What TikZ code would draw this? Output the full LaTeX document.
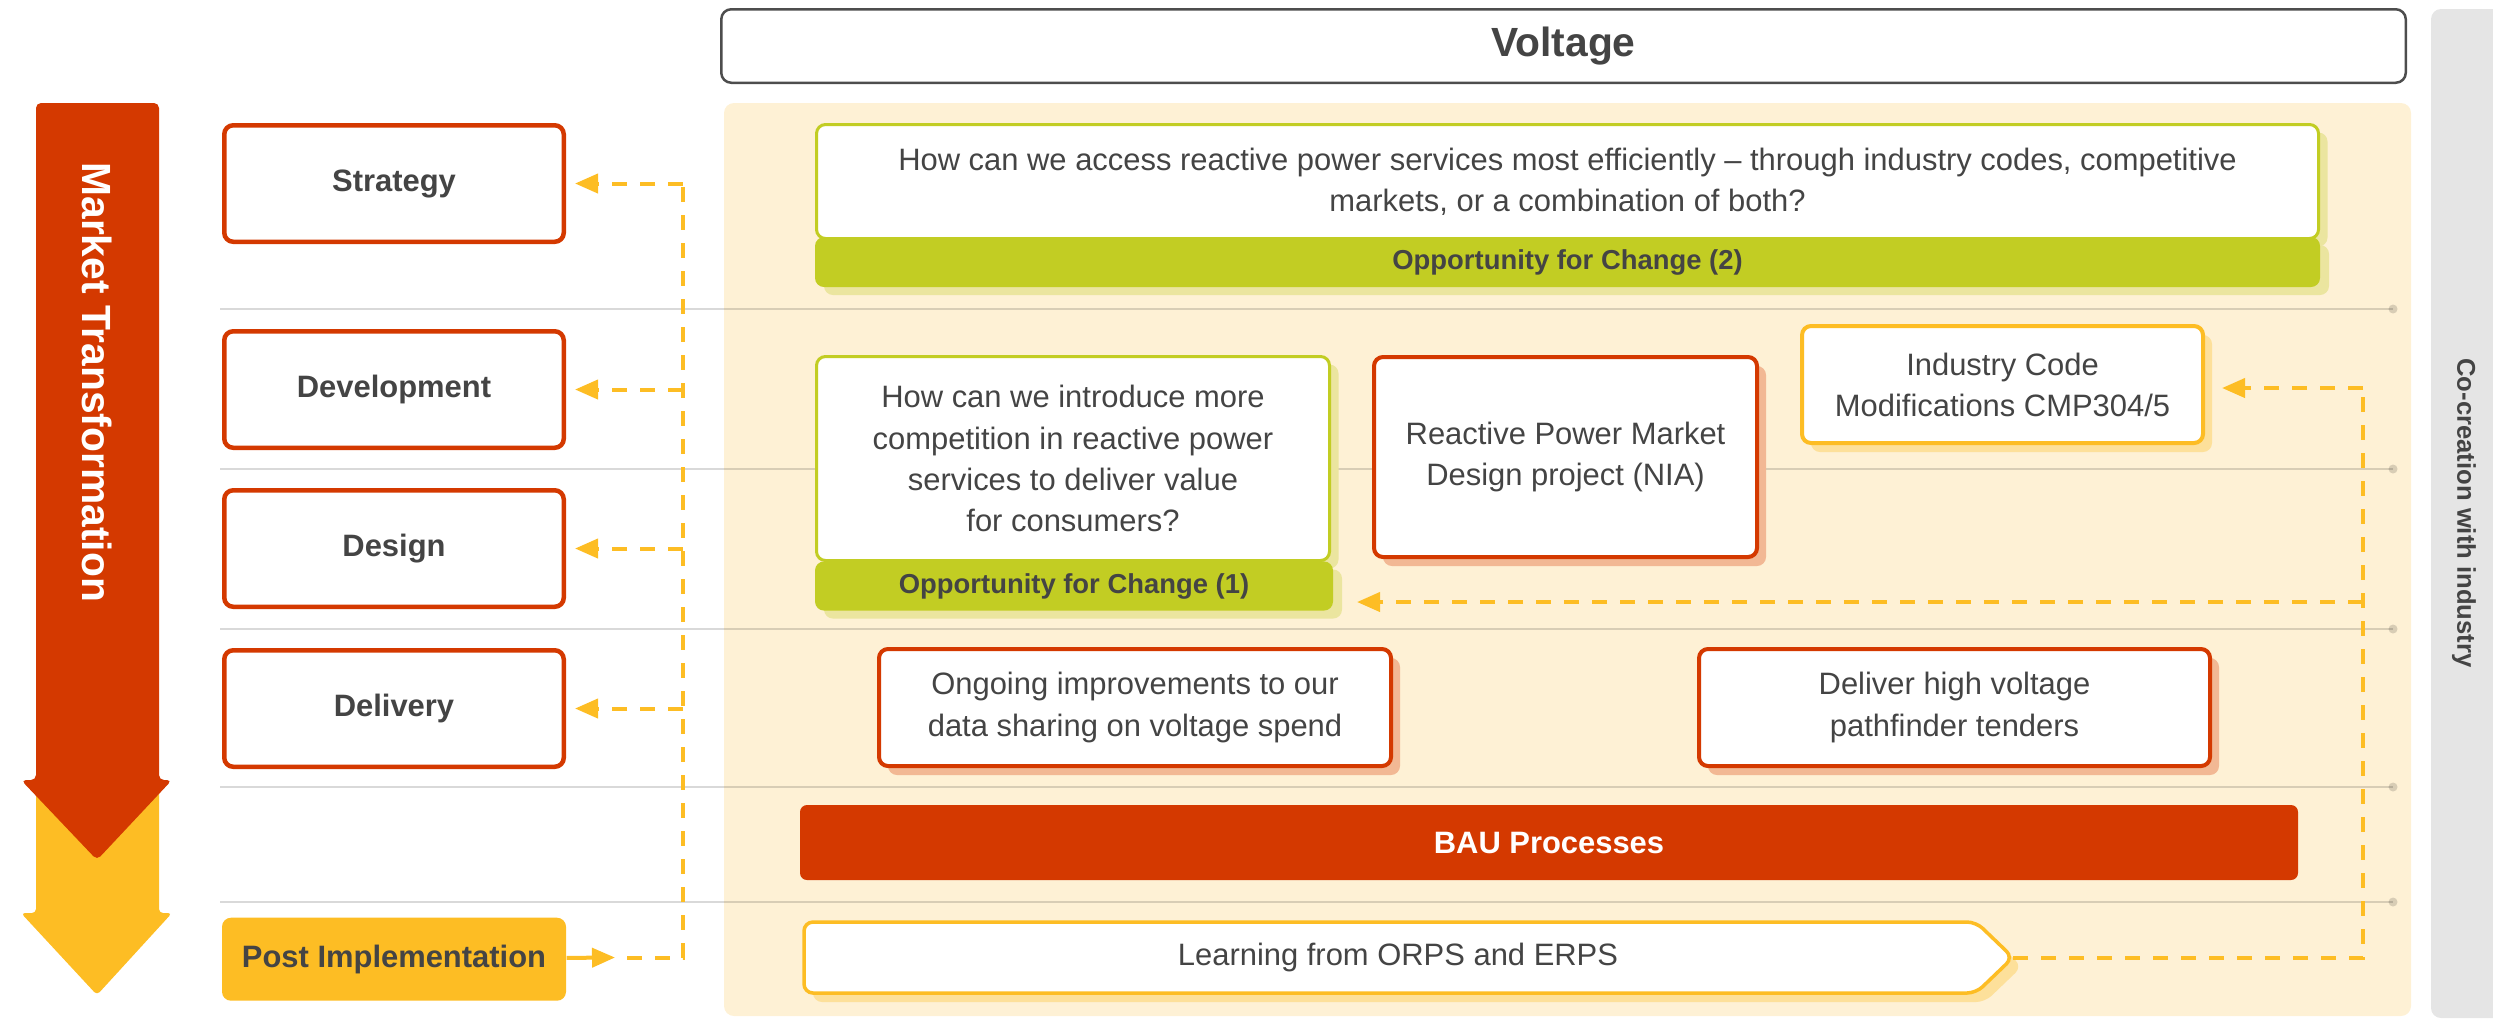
\documentclass[tikz,border=0pt]{standalone}
\usepackage{fontspec}
\setmainfont{Liberation Sans}
\usepackage{xcolor}
\usepackage{tikz}
\usetikzlibrary{arrows.meta,positioning,shadows}
\definecolor{VoltRed}{HTML}{D43900}
\definecolor{VoltAmber}{HTML}{FDBD24}
\definecolor{VoltGreen}{HTML}{C2CD23}
\definecolor{VoltCream}{HTML}{FEF1D5}
\definecolor{VoltStrip}{HTML}{E5E5E5}
\definecolor{VoltFrame}{HTML}{4D4D4D}
\definecolor{VoltInk}{HTML}{444444}
\definecolor{VoltRedShade}{HTML}{F2B894}
\definecolor{VoltGreenShade}{HTML}{EBE59F}
\definecolor{VoltAmberShade}{HTML}{FDE09A}
\newcommand{\stagefont}{\bfseries\fontsize{8.8}{11.7}\selectfont}
\newcommand{\leverfont}{\fontsize{8.8}{11.7}\selectfont}
\newcommand{\oppfont}{\bfseries\fontsize{7.8}{10}\selectfont}
\newcommand{\bannerfont}{\bfseries\fontsize{11.6}{14}\selectfont}
\newcommand{\stripfont}{\bfseries\fontsize{7.3}{9}\selectfont}
\tikzset{
  stagebox/.style={draw=VoltRed, line width=0.45mm, rounded corners=0.9mm, fill=white,
    text=VoltInk, font=\stagefont, minimum width=33.95mm, minimum height=11.65mm},
  postbox/.style={fill=VoltAmber, rounded corners=0.9mm, text=VoltInk, font=\stagefont,
    minimum width=34.4mm, minimum height=8.3mm},
  headerbox/.style={draw=VoltFrame, line width=0.25mm, rounded corners=1mm, fill=white,
    text=VoltInk, font=\bannerfont, minimum width=168.45mm, minimum height=7.35mm},
  questionbox/.style={draw=VoltGreen, line width=0.3mm, rounded corners=0.9mm, fill=white,
    text=VoltInk, font=\leverfont, align=center,
    general shadow={fill=VoltGreenShade, shadow xshift=0.9mm, shadow yshift=-0.8mm}},
  oppbar/.style={fill=VoltGreen, rounded corners=0.9mm, text=VoltInk, font=\oppfont,
    general shadow={fill=VoltGreenShade, shadow xshift=0.9mm, shadow yshift=-0.8mm}},
  leverbox/.style={draw=VoltRed, line width=0.4mm, rounded corners=0.9mm, fill=white,
    text=VoltInk, font=\leverfont, align=center,
    general shadow={fill=VoltRedShade, shadow xshift=0.9mm, shadow yshift=-0.9mm}},
  codebox/.style={draw=VoltAmber, line width=0.4mm, rounded corners=0.9mm, fill=white,
    text=VoltInk, font=\leverfont, align=center,
    general shadow={fill=VoltAmberShade, shadow xshift=0.9mm, shadow yshift=-0.9mm}},
  baubar/.style={fill=VoltRed, rounded corners=0.7mm, text=white, font=\stagefont},
  learnshape/.style={draw=VoltAmber, line width=0.35mm, fill=white, rounded corners=0.9mm,
    general shadow={fill=VoltAmberShade, shadow xshift=0.9mm, shadow yshift=-0.9mm}},
  learnlabel/.style={text=VoltInk, font=\leverfont},
  bannertext/.style={text=white, font=\bannerfont},
  striptext/.style={text=VoltInk, font=\stripfont},
  rule/.style={draw=black, opacity=0.15, line width=0.25mm},
  ruledot/.style={fill=black, opacity=0.15},
  feedline/.style={draw=VoltAmber, line width=0.4mm, dash pattern=on 1.5mm off 1.3mm},
  feedwire/.style={feedline, -{Triangle[length=2.3mm, width=1.9mm]}, shorten >=0.9mm},
  postwire/.style={draw=VoltAmber, line width=0.4mm, -{Triangle[length=2.3mm, width=1.9mm]}}
}

\begin{document}
\begin{tikzpicture}[x=0.1mm, y=-0.1mm]
  \useasboundingbox (0,0) rectangle (2493,1020);
  % panels
  \fill[VoltCream, rounded corners=1mm] (724,103) rectangle (2411,1016);
  \fill[VoltStrip] (2493,9) [rounded corners=1mm] -- (2431,9) -- (2431,1018)
    [sharp corners] -- (2493,1018) -- cycle;
  % rules between the stages
  \foreach \y in {309,469,629,787,902} {
    \draw[rule] (220,\y) -- (2393,\y);
    \fill[ruledot] (2393,\y) circle (0.45mm);
  }
  % market transformation arrow
  \fill[VoltAmber, rounded corners=0.4mm] (36,775) -- (159,775) -- (159,913) -- (172,913)
    -- (97,995) -- (21,913) -- (36,913) -- cycle;
  \fill[VoltRed, rounded corners=0.5mm] (36,103) -- (159,103) -- (159,780) -- (172,780)
    -- (97,860) -- (21,780) -- (36,780) -- cycle;
  \node[bannertext, rotate=-90, anchor=west] (market) at (97,150) {Market Transformation};

  % stages
  \node[stagebox] (strategy) at (394,183.5) {Strategy};
  \node[stagebox, below=8.5mm of strategy] (development) {Development};
  \node[stagebox, below=3.8mm of development] (design) {Design};
  \node[stagebox, below=3.9mm of design] (delivery) {Delivery};
  \node[postbox, below=14.8mm of delivery] (post) {Post Implementation};

  % header and side label
  \node[headerbox] (voltage) at (1563.5,46) {Voltage};
  \node[striptext, rotate=-90] (cocreation) at (2464,513) {Co-creation with industry};

  % opportunities for change
  \node[questionbox, minimum width=150.2mm, minimum height=11.4mm] (accessq) at (1567.5,181.5)
    {How can we access reactive power services most efficiently -- through industry codes, competitive\\
     markets, or a combination of both?};
  \node[oppbar, minimum width=150.5mm, minimum height=5mm] (opptwo) at (1567.5,262)
    {Opportunity for Change (2)};
  \node[questionbox, minimum width=51.3mm, minimum height=20.4mm] (competeq) at (1073,458.5)
    {How can we introduce more\\competition in reactive power\\services to deliver value\\for consumers?};
  \node[oppbar, minimum width=51.8mm, minimum height=4.8mm] (oppone) at (1074,586)
    {Opportunity for Change (1)};

  % workstreams
  \node[leverbox, minimum width=38.3mm, minimum height=20mm] (rpmd) at (1565.5,457)
    {Reactive Power Market\\Design project (NIA)};
  \node[codebox, minimum width=40.1mm, minimum height=11.7mm] (cmp) at (2002.5,384.5)
    {Industry Code\\Modifications CMP304/5};
  \node[leverbox, minimum width=51.2mm, minimum height=11.7mm] (ongoing) at (1135,707.5)
    {Ongoing improvements to our\\data sharing on voltage spend};
  \node[leverbox, minimum width=51.1mm, minimum height=11.7mm] (pathfinder) at (1954.5,707.5)
    {Deliver high voltage\\pathfinder tenders};
  \node[baubar, minimum width=149.8mm, minimum height=7.5mm] (bau) at (1549,842.5) {BAU Processes};

  % learning
  \coordinate (learntip) at (2013,957.5);
  \path[learnshape] (804,922) -- (1976,922) -- (learntip) -- (1976,993) -- (804,993) -- cycle;
  \node[learnlabel] (learning) at (1398,957.5) {Learning from ORPS and ERPS};

  % feedback loops
  \coordinate (posthead) at (615,957.5);
  \coordinate (lspinebot) at (683,957.5);
  \coordinate (lspinetop) at (683,183.5);
  \draw[postwire] (post) -- (posthead);
  \draw[feedline] ([xshift=1.2mm]posthead) -- (lspinebot) -- (lspinetop);
  \foreach \stage in {strategy,development,design,delivery}
    \draw[feedwire] (lspinetop |- \stage) -- (\stage);

  \coordinate (rspinebot) at (2363,957.5);
  \coordinate (rspinetop) at (2363,388);
  \coordinate (oppin) at (1357,602);
  \draw[feedline] (learntip) -- (rspinebot) -- (rspinetop);
  \draw[feedwire, shorten >=1.7mm] (rspinetop) -- (rspinetop -| cmp.east);
  \draw[feedwire, shorten >=0mm] (rspinebot |- oppin) -- (oppin);
\end{tikzpicture}
\end{document}
